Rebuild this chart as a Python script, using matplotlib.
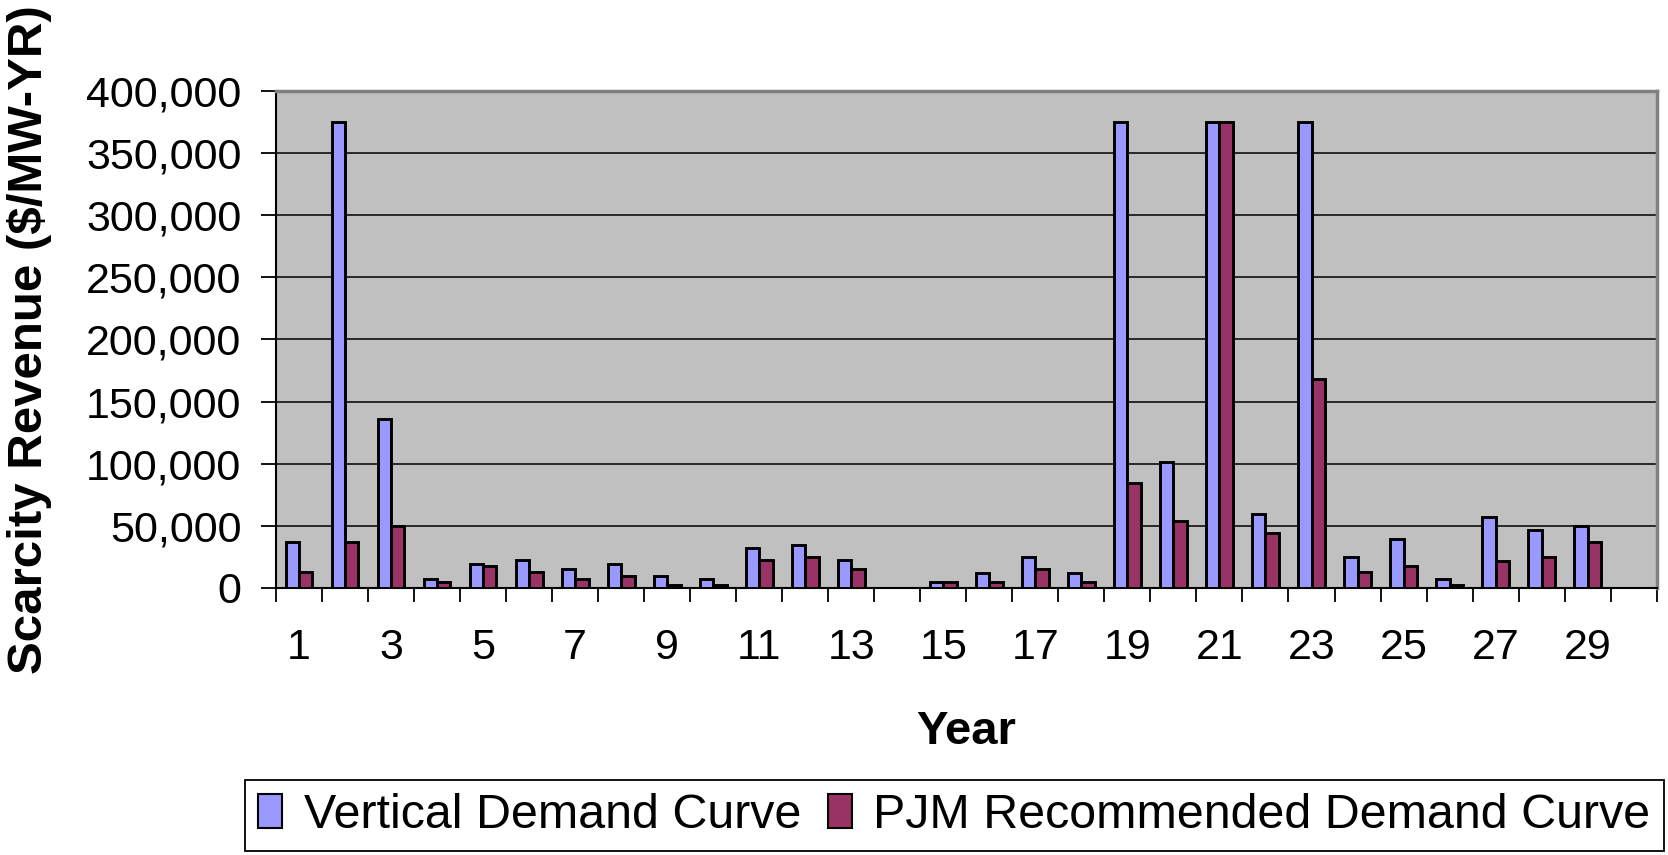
import numpy as np
import matplotlib
matplotlib.use("Agg")
import matplotlib.pyplot as plt

plt.rcParams["font.family"] = ["Liberation Sans", "DejaVu Sans"]

# Scarcity revenue per simulated year ($/MW-YR)
years = list(range(1, 31))
vertical_curve = [37000, 375000, 136000, 7500, 19600, 22500, 15000, 19600, 9900, 7500,
                  32200, 34300, 22300, 0, 5100, 12300, 24700, 12300, 375000, 101700,
                  375000, 59200, 375000, 25300, 39700, 7500, 56900, 46900, 49900, 0]
pjm_curve = [12500, 37000, 50000, 4800, 17400, 12500, 7500, 9900, 2700, 2700,
             22300, 24700, 15000, 0, 5100, 5100, 15000, 5100, 84100, 53900,
             375000, 44600, 168000, 12500, 17700, 2300, 22000, 25000, 37000, 0]
labels = ["Vertical Demand Curve", "PJM Recommended Demand Curve"]
colors = ["#9999FF", "#993366"]

fig = plt.figure(figsize=(16.68, 8.55), dpi=100)
ax = fig.add_axes([0.1655, 0.3123, 0.8277, 0.5813])
ax.set_facecolor("#C0C0C0")

x = np.arange(len(years))
w = 0.29
ax.bar(x - w / 2, vertical_curve, w, color=colors[0], edgecolor="black",
       linewidth=2.1, label=labels[0], zorder=3)
ax.bar(x + w / 2, pjm_curve, w, color=colors[1], edgecolor="black",
       linewidth=2.1, label=labels[1], zorder=3)

ax.set_xlim(-0.5, len(years) - 0.5)
ax.set_ylim(0, 400000)
ax.set_yticks(np.arange(0, 400001, 50000))
ax.yaxis.set_major_formatter(matplotlib.ticker.FuncFormatter(lambda v, p: f"{v:,.0f}"))
ax.grid(axis="y", color="black", linewidth=1.1)
ax.set_axisbelow(True)

# tick marks on category boundaries, labels on every other year
ax.set_xticks(np.arange(-0.5, len(years), 1.0))
ax.set_xticklabels([])
ax.set_xticks(x[::2], minor=True)
ax.set_xticklabels([str(y) for y in years[::2]], minor=True)
ax.tick_params(axis="x", which="major", direction="out", length=10, width=1.3, color="black")
ax.tick_params(axis="x", which="minor", length=0, pad=29, labelsize=31)
ax.tick_params(axis="y", direction="out", length=11, width=1.3, pad=14, labelsize=31)

for side in ("top", "right"):
    ax.spines[side].set_color("#808080")
    ax.spines[side].set_linewidth(2.5)
for side in ("left", "bottom"):
    ax.spines[side].set_color("black")
    ax.spines[side].set_linewidth(1.5)

ax.set_ylabel("Scarcity Revenue ($/MW-YR)", fontsize=35.5, fontweight="bold")
ax.yaxis.set_label_coords(-0.162, 0.5)
ax.set_xlabel("Year", fontsize=34, fontweight="bold")
ax.xaxis.set_label_coords(0.5, -0.245)
ax.xaxis.label.set_va("top")

leg = fig.legend(loc="center", bbox_to_anchor=(0.572, 0.046), ncol=2, fontsize=34.8,
                 frameon=True, fancybox=False, edgecolor="black", framealpha=1,
                 handlelength=0.5, handleheight=0.7, handletextpad=0.45,
                 columnspacing=0.55, borderpad=0.27, borderaxespad=0)
leg.get_frame().set_linewidth(1.3)
for h in leg.legend_handles:
    h.set_linewidth(1.5)

fig.savefig("out.png", dpi=100)
